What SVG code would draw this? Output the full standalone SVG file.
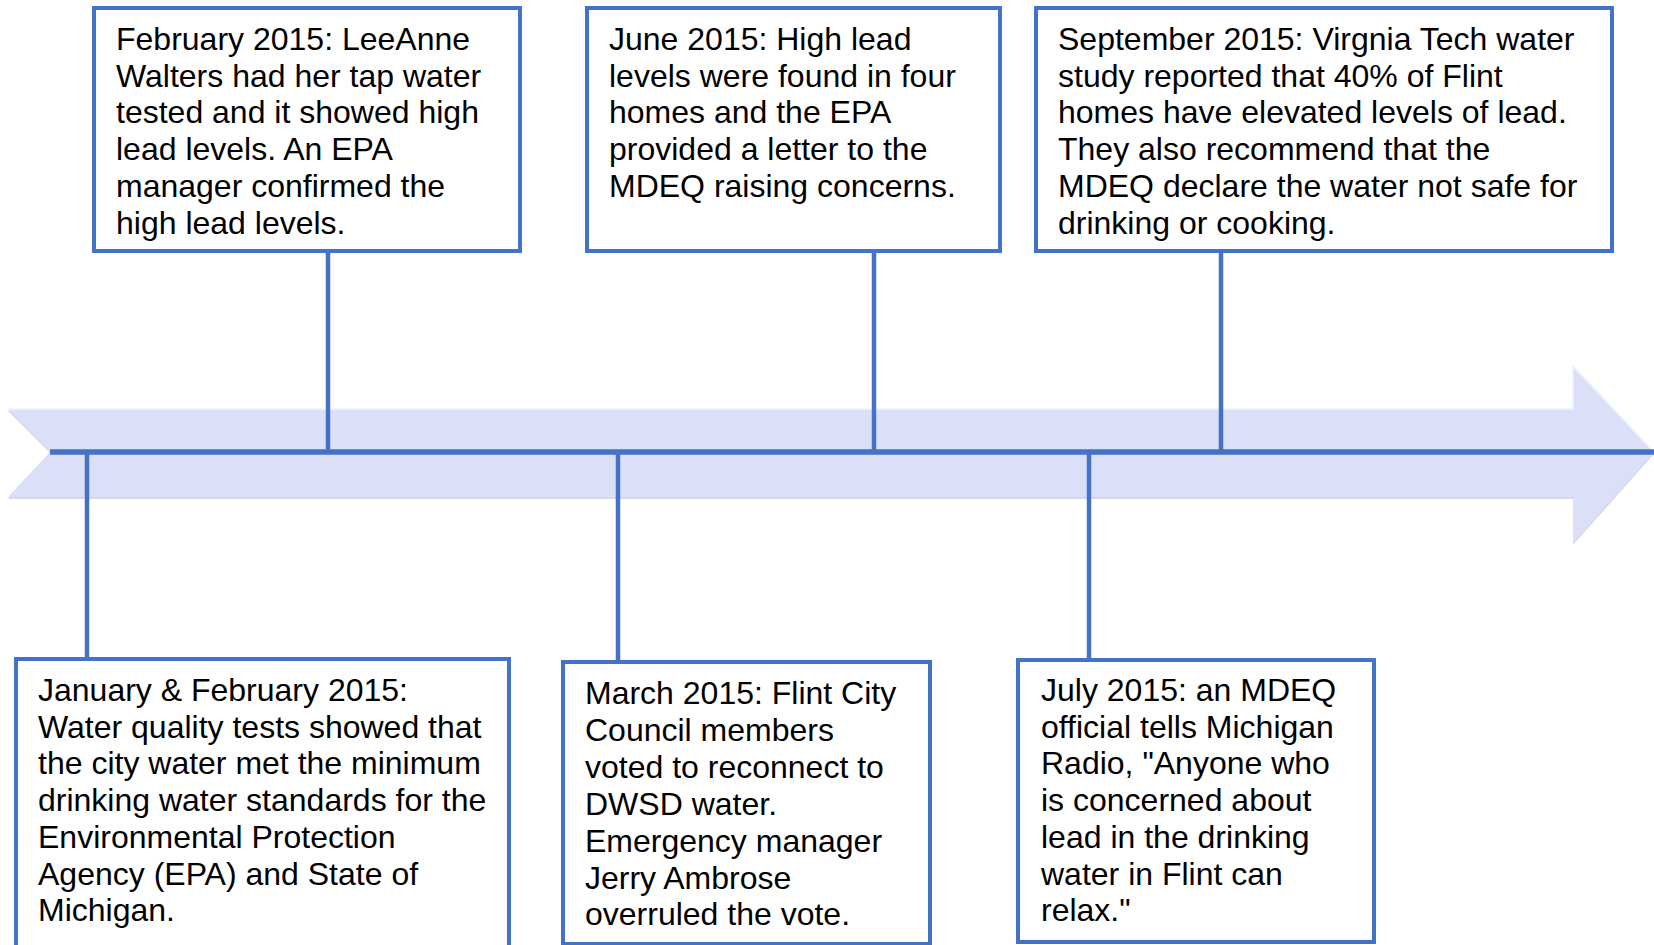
<svg xmlns="http://www.w3.org/2000/svg" width="1654" height="945" viewBox="0 0 1654 945">
<style>
  .box { fill: #ffffff; stroke: #4472C4; stroke-width: 4; }
  .conn { stroke: #4472C4; stroke-width: 4.5; fill: none; }
  .axis { stroke: #4472C4; stroke-width: 5.5; fill: none; }
  .lbl { font-family: "Liberation Sans", Arial, sans-serif; font-size: 32px; fill: #000000; }
</style>
<rect width="1654" height="945" fill="#ffffff"/>
<g id="timeline-arrow">
  <polygon points="8,411 50,453 8,499 1573,499 1573,545 1654,454 1573,368 1573,411" fill="#C3C7DC" opacity="0.7"/>
  <polygon points="8,409 50,452 8,497 1573,497 1573,543 1654,452 1573,366 1573,409" fill="#DBE0F8"/>
  <polyline points="8,409 1573,409 1573,366 1654,452" fill="none" stroke="#F0F2FC" stroke-width="1.5"/>
</g>
<g id="connectors">
  <line class="axis" x1="50" y1="452" x2="1654" y2="452"/>
  <line class="conn" x1="328" y1="252" x2="328" y2="452"/>
  <line class="conn" x1="874" y1="252" x2="874" y2="452"/>
  <line class="conn" x1="1221" y1="252" x2="1221" y2="452"/>
  <line class="conn" x1="87" y1="452" x2="87" y2="659"/>
  <line class="conn" x1="618" y1="452" x2="618" y2="662"/>
  <line class="conn" x1="1089" y1="452" x2="1089" y2="660"/>
</g>
<g id="feb2015">
  <rect class="box" x="94" y="8" width="426" height="243"/>
  <text class="lbl" x="116" y="50">
    <tspan x="116" dy="0">February 2015: LeeAnne</tspan>
    <tspan x="116" dy="36.7">Walters had her tap water</tspan>
    <tspan x="116" dy="36.7">tested and it showed high</tspan>
    <tspan x="116" dy="36.7">lead levels. An EPA</tspan>
    <tspan x="116" dy="36.7">manager confirmed the</tspan>
    <tspan x="116" dy="36.7">high lead levels.</tspan>
  </text>
</g>
<g id="jun2015">
  <rect class="box" x="587" y="8" width="413" height="243"/>
  <text class="lbl" x="609" y="50">
    <tspan x="609" dy="0">June 2015: High lead</tspan>
    <tspan x="609" dy="36.7">levels were found in four</tspan>
    <tspan x="609" dy="36.7">homes and the EPA</tspan>
    <tspan x="609" dy="36.7">provided a letter to the</tspan>
    <tspan x="609" dy="36.7">MDEQ raising concerns.</tspan>
  </text>
</g>
<g id="sep2015">
  <rect class="box" x="1036" y="8" width="576" height="243"/>
  <text class="lbl" x="1058" y="50">
    <tspan x="1058" dy="0">September 2015: Virgnia Tech water</tspan>
    <tspan x="1058" dy="36.7">study reported that 40% of Flint</tspan>
    <tspan x="1058" dy="36.7">homes have elevated levels of lead.</tspan>
    <tspan x="1058" dy="36.7">They also recommend that the</tspan>
    <tspan x="1058" dy="36.7">MDEQ declare the water not safe for</tspan>
    <tspan x="1058" dy="36.7">drinking or cooking.</tspan>
  </text>
</g>
<g id="janfeb2015">
  <rect class="box" x="16" y="659" width="493" height="300"/>
  <text class="lbl" x="38" y="701">
    <tspan x="38" dy="0">January &amp; February 2015:</tspan>
    <tspan x="38" dy="36.7">Water quality tests showed that</tspan>
    <tspan x="38" dy="36.7">the city water met the minimum</tspan>
    <tspan x="38" dy="36.7">drinking water standards for the</tspan>
    <tspan x="38" dy="36.7">Environmental Protection</tspan>
    <tspan x="38" dy="36.7">Agency (EPA) and State of</tspan>
    <tspan x="38" dy="36.7">Michigan.</tspan>
  </text>
</g>
<g id="mar2015">
  <rect class="box" x="563" y="662" width="367" height="282"/>
  <text class="lbl" x="585" y="704">
    <tspan x="585" dy="0">March 2015: Flint City</tspan>
    <tspan x="585" dy="36.9">Council members</tspan>
    <tspan x="585" dy="36.9">voted to reconnect to</tspan>
    <tspan x="585" dy="36.9">DWSD water.</tspan>
    <tspan x="585" dy="36.9">Emergency manager</tspan>
    <tspan x="585" dy="36.9">Jerry Ambrose</tspan>
    <tspan x="585" dy="36.9">overruled the vote.</tspan>
  </text>
</g>
<g id="jul2015">
  <rect class="box" x="1018" y="660" width="356" height="282"/>
  <text class="lbl" x="1041" y="701">
    <tspan x="1041" dy="0">July 2015: an MDEQ</tspan>
    <tspan x="1041" dy="36.7">official tells Michigan</tspan>
    <tspan x="1041" dy="36.7">Radio, "Anyone who</tspan>
    <tspan x="1041" dy="36.7">is concerned about</tspan>
    <tspan x="1041" dy="36.7">lead in the drinking</tspan>
    <tspan x="1041" dy="36.7">water in Flint can</tspan>
    <tspan x="1041" dy="36.7">relax."</tspan>
  </text>
</g>
</svg>
